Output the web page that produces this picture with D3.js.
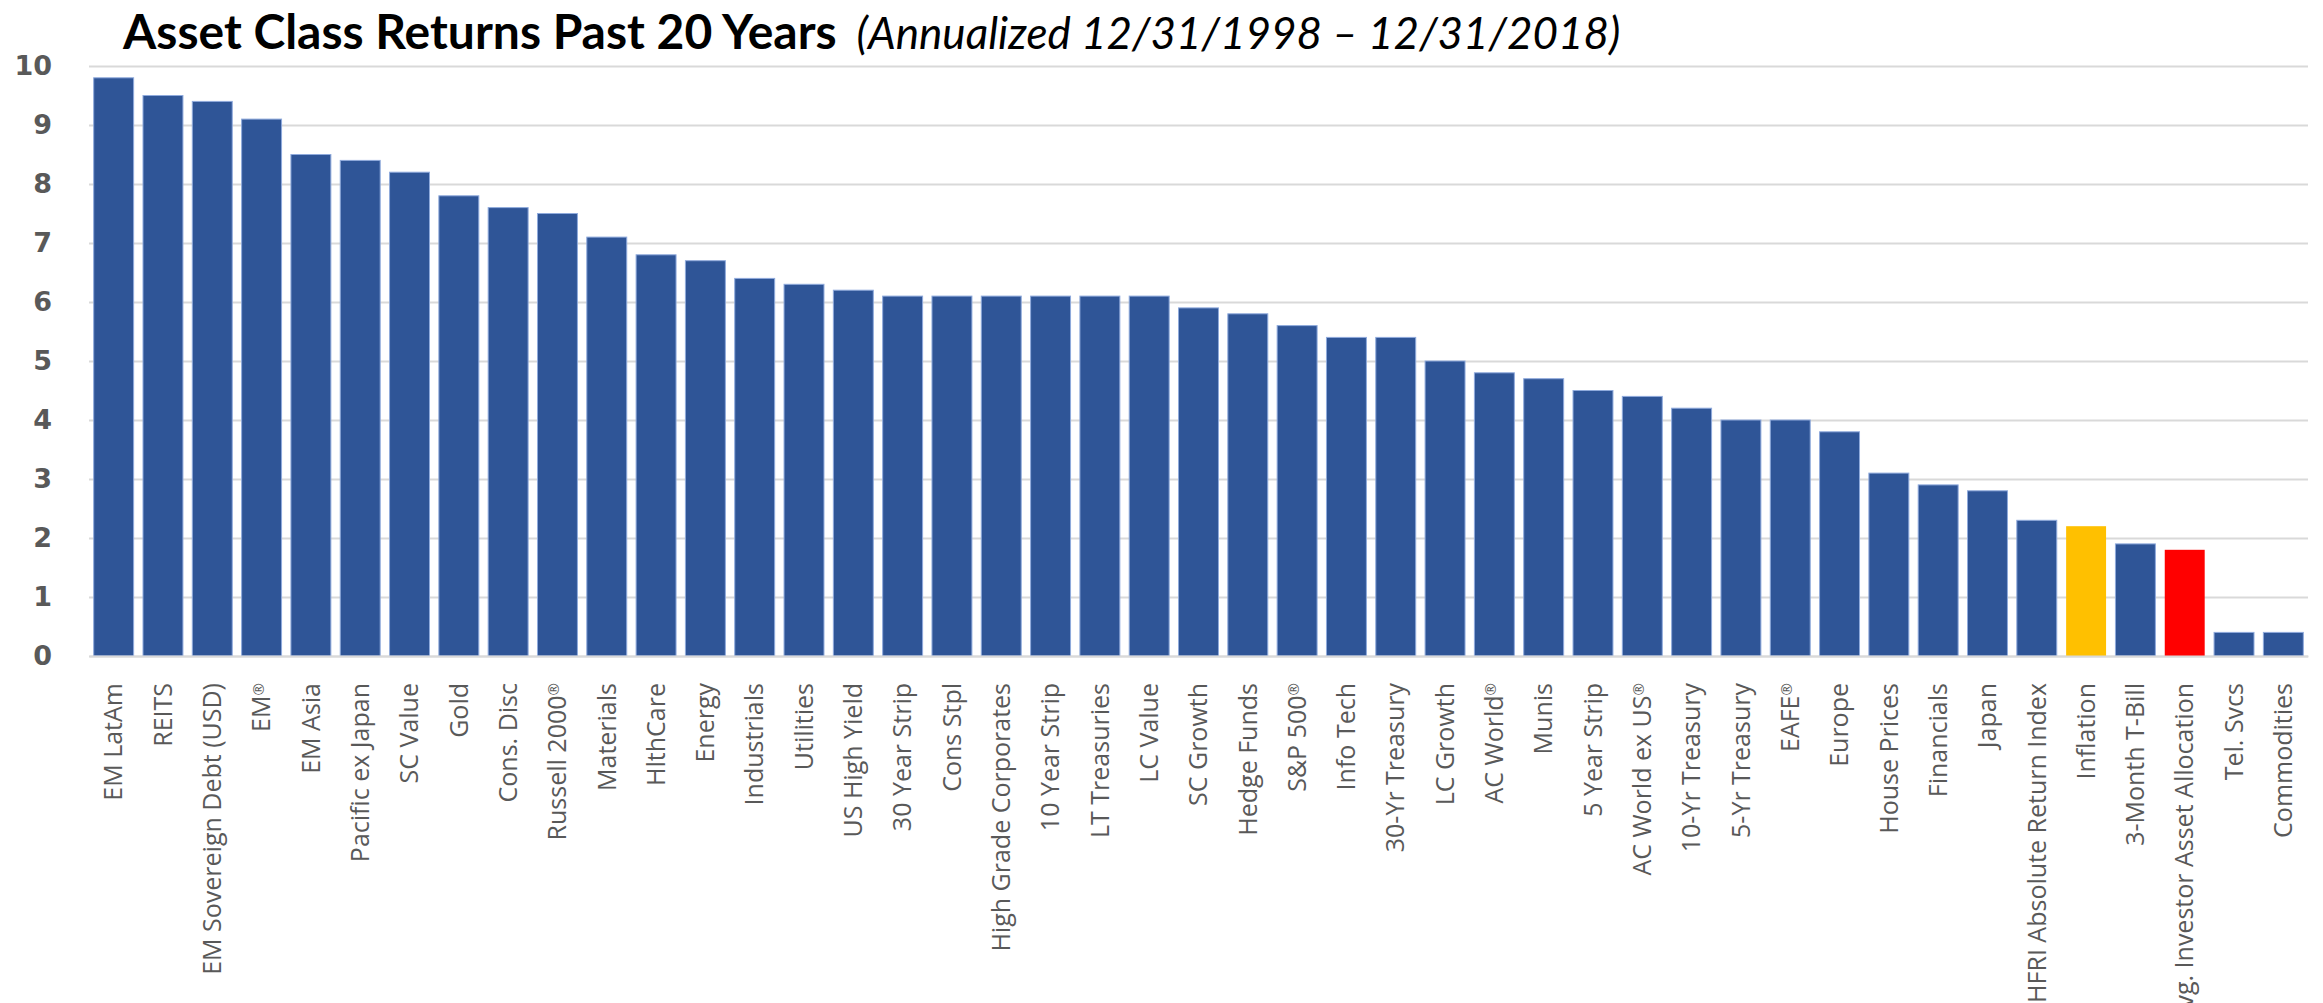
<!DOCTYPE html>
<html>
<head>
<meta charset="utf-8">
<script src="https://cdn.jsdelivr.net/npm/d3@7"></script>
<style>
  body { margin: 0; background: #fff; }
  svg { display: block; }
</style>
</head>
<body>
<svg id="chart"></svg>
<script>
const width = 2323;
const height = 1003;

// asset classes, left to right
const categories = [
  'EM LatAm', 'REITS', 'EM Sovereign Debt (USD)', 'EM\u00AE', 'EM Asia', 'Pacific ex Japan',
  'SC Value', 'Gold', 'Cons. Disc', 'Russell 2000\u00AE', 'Materials', 'HlthCare', 'Energy',
  'Industrials', 'Utilities', 'US High Yield', '30 Year Strip', 'Cons Stpl',
  'High Grade Corporates', '10 Year Strip', 'LT Treasuries', 'LC Value', 'SC Growth',
  'Hedge Funds', 'S&P 500\u00AE', 'Info Tech', '30-Yr Treasury', 'LC Growth', 'AC World\u00AE',
  'Munis', '5 Year Strip', 'AC World ex US\u00AE', '10-Yr Treasury', '5-Yr Treasury', 'EAFE\u00AE',
  'Europe', 'House Prices', 'Financials', 'Japan', 'HFRI Absolute Return Index', 'Inflation',
  '3-Month T-Bill', 'Avg. Investor Asset Allocation', 'Tel. Svcs', 'Commodities'
];

// annualized returns, %
const returns = [
  9.8, 9.5, 9.4, 9.1, 8.5, 8.4,
  8.2, 7.8, 7.6, 7.5, 7.1, 6.8, 6.7,
  6.4, 6.3, 6.2, 6.1, 6.1,
  6.1, 6.1, 6.1, 6.1, 5.9,
  5.8, 5.6, 5.4, 5.4, 5.0, 4.8,
  4.7, 4.5, 4.4, 4.2, 4.0, 4.0,
  3.8, 3.1, 2.9, 2.8, 2.3, 2.2,
  1.9, 1.8, 0.4, 0.4
];

const yTicks = [0, 1, 2, 3, 4, 5, 6, 7, 8, 9, 10];

// highlighted bars
const highlights = { 'Inflation': '#FFC000', 'Avg. Investor Asset Allocation': '#FF0000' };

const margin = { top: 66, right: 15, bottom: 347, left: 89 };

const svg = d3.select('#chart')
    .attr('width', width)
    .attr('height', height);

const x = d3.scaleBand()
    .domain(categories)
    .range([margin.left, width - margin.right])
    .paddingInner(0.19)
    .paddingOuter(0.095);

const y = d3.scaleLinear()
    .domain([0, 10])
    .range([height - margin.bottom, margin.top]);

// gridlines + y labels
const yAxis = svg.append('g')
    .attr('transform', `translate(${margin.left},0)`)
    .call(d3.axisLeft(y)
        .tickValues(yTicks)
        .tickSize(-(width - margin.left - margin.right))
        .tickPadding(37)
        .tickFormat(d3.format('d')));
yAxis.select('.domain').remove();
yAxis.selectAll('.tick line')
    .attr('stroke', '#D9D9D9')
    .attr('stroke-width', 2);
yAxis.selectAll('.tick text')
    .attr('fill', '#595959')
    .style('font-family', '"DejaVu Sans", Verdana, sans-serif')
    .style('font-weight', 'bold')
    .style('font-size', '27px');

const data = categories.map((c, i) => ({ name: c, value: returns[i] }));

svg.append('g')
    .selectAll('rect')
    .data(data)
    .join('rect')
    .attr('x', d => x(d.name))
    .attr('y', d => y(d.value))
    .attr('width', x.bandwidth())
    .attr('height', d => y(0) - y(d.value))
    .attr('fill', d => highlights[d.name] || '#2F5597')
    .attr('stroke', d => highlights[d.name] ? 'none' : '#8FAADC')
    .attr('stroke-width', 1);

// category axis
const xAxis = svg.append('g')
    .attr('transform', `translate(0,${y(0)})`)
    .call(d3.axisBottom(x).tickSize(0).tickPadding(0));
xAxis.select('.domain')
    .attr('stroke', '#D9D9D9')
    .attr('stroke-width', 2);
xAxis.selectAll('.tick text')
    .attr('transform', 'rotate(-90)')
    .attr('text-anchor', 'end')
    .attr('x', -27)
    .attr('y', 0)
    .attr('dy', '0.35em')
    .attr('fill', '#595959')
    .style('font-family', '"Open Sans", sans-serif')
    .style('font-size', '25px')
    .each(function (d) {
        // small raised ® like the original
        if (d.endsWith('\u00AE')) {
            const t = d3.select(this).text(null);
            t.append('tspan').text(d.slice(0, -1));
            t.append('tspan')
                .attr('dy', '-0.45em')
                .style('font-size', '15px')
                .text('\u00AE');
        }
    });

// title
const title = svg.append('text')
    .attr('x', 123)
    .attr('y', 49)
    .attr('fill', '#000')
    .style('font-family', 'Lato, "Open Sans", sans-serif');
title.append('tspan')
    .style('font-weight', 'bold')
    .style('font-size', '48px')
    .text('Asset Class Returns Past 20 Years');
title.append('tspan')
    .attr('dx', 20)
    .style('font-style', 'italic')
    .style('font-size', '44px')
    .text('(Annualized 12/31/1998 \u2013 12/31/2018)');
</script>
</body>
</html>
